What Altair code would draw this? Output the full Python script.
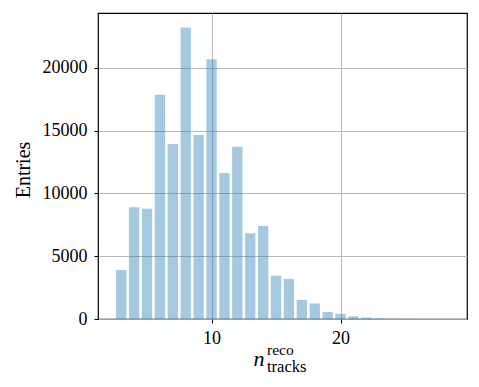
import altair as alt
import pandas as pd

# bin centres (n_tracks^reco) and entries per bin
centers = list(range(3, 29))
counts = [3900, 8900, 8780, 17870, 13940, 23220, 14660, 20690, 11630, 13730,
          6840, 7400, 3450, 3180, 1520, 1230, 560, 420, 220, 110,
          40, 15, 5, 2, 1, 0]
x_ticks = [10, 20]
y_ticks = [0, 5000, 10000, 15000, 20000]

df = pd.DataFrame({"c": centers, "n": counts})
df["left"] = df["c"] - 0.4
df["right"] = df["c"] + 0.4
df["zero"] = 0

FONT = "Liberation Serif"
xmin, xmax = 2.5 - 1.3, 28.5 + 1.3
ymax = max(counts) * 1.05

bars = alt.Chart(df).mark_bar(color="#1f77b4", opacity=0.4).encode(
    x=alt.X("left:Q",
            scale=alt.Scale(domain=[xmin, xmax], nice=False, zero=False),
            axis=alt.Axis(values=x_ticks, title=None, format="d", labelPadding=6,
                          labelFont=FONT, labelFontSize=18)),
    x2="right:Q",
    y=alt.Y("n:Q",
            scale=alt.Scale(domain=[0, ymax], nice=False),
            axis=alt.Axis(values=y_ticks, title=None, format="d", labelPadding=7,
                          labelFont=FONT, labelFontSize=18)),
    y2="zero:Q",
)

one = pd.DataFrame({"a": [0]})
n_txt = alt.Chart(one).mark_text(text="n", font=FONT, fontStyle="italic", fontSize=22,
                                 align="center", baseline="alphabetic", color="black").encode(
    x=alt.value(161), y=alt.value(353))
sup_txt = alt.Chart(one).mark_text(text="reco", font=FONT, fontSize=15.5,
                                   align="left", baseline="alphabetic", color="black").encode(
    x=alt.value(169), y=alt.value(342))
sub_txt = alt.Chart(one).mark_text(text="tracks", font=FONT, fontSize=16.5,
                                   align="left", baseline="alphabetic", color="black").encode(
    x=alt.value(169), y=alt.value(359))
ylab = alt.Chart(one).mark_text(text="Entries", font=FONT, fontSize=20, angle=270,
                                align="center", baseline="alphabetic", color="black").encode(
    x=alt.value(-68), y=alt.value(157))

chart = alt.layer(bars, n_txt, sup_txt, sub_txt, ylab).properties(
    width=369, height=306, autosize="none",
    padding={"left": 90, "top": 5, "right": 4, "bottom": 56},
).configure(font=FONT).configure_view(stroke="black", strokeWidth=1.2).configure_axis(
    labelFont=FONT, labelFontSize=18, labelColor="black",
    tickColor="black", tickSize=4, tickWidth=1,
    domain=False, grid=True, gridColor="#b0b0b0", gridWidth=0.9, zindex=1,
)

chart.save("out.html", embed_options={"renderer": "svg", "actions": False})
